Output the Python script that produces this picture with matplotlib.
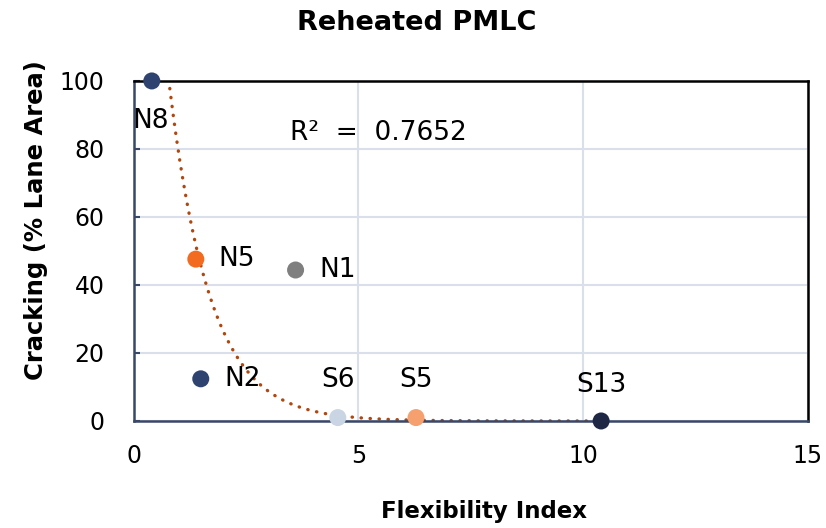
import numpy as np
import matplotlib
matplotlib.use("Agg")
import matplotlib.pyplot as plt

# sample ids, flexibility index and cracking (% lane area)
labels = ["N8", "N5", "N1", "N2", "S6", "S5", "S13"]
flex_index = [0.4, 1.38, 3.6, 1.49, 4.54, 6.28, 10.4]
cracking = [100, 47.6, 44.4, 12.4, 1.0, 1.0, 0.0]
colors = ["#2f4371", "#f26b21", "#7f7f7f", "#2f4371", "#c9d5e2", "#f5a06e", "#1e2744"]

# exponential trendline y = a * exp(b * x)
trend_a = 236.0
trend_b = -1.1
r_squared = 0.7652

plt.rcParams["font.family"] = ["DejaVu Sans"]

fig = plt.figure(figsize=(8.26, 5.28), dpi=100)
ax = fig.add_axes([0.162, 0.2027, 0.816, 0.644])

xt = np.linspace(min(flex_index), max(flex_index), 400)
ax.plot(xt, trend_a * np.exp(trend_b * xt), linestyle=(0, (0.1, 2.6)),
        color="#b0470f", linewidth=2.4, dash_capstyle="round", zorder=2)

ax.scatter(flex_index, cracking, s=150, c=colors, zorder=3, clip_on=False,
           linewidths=0)

offsets = {
    "N8": ((-1, -29), "center", "center"),
    "N5": ((16, 0), "left", "center"),
    "N1": ((17, 0), "left", "center"),
    "N2": ((17, 0), "left", "center"),
    "S6": ((0, 27), "center", "center"),
    "S5": ((0, 27), "center", "center"),
    "S13": ((0, 26), "center", "center"),
}
for lab, x, y in zip(labels, flex_index, cracking):
    off, ha, va = offsets[lab]
    ax.annotate(lab, (x, y), xytext=off, textcoords="offset points",
                ha=ha, va=va, fontsize=19, color="black")

ax.text(3.47, 84.7, f"R²  =  {r_squared}", fontsize=19, ha="left", va="center")

ax.set_xlim(0, 15)
ax.set_ylim(0, 100)
ax.set_xticks([0, 5, 10, 15])
ax.set_yticks([0, 20, 40, 60, 80, 100])
ax.grid(True, color="#d9e0ec", linewidth=1.5)
ax.set_axisbelow(True)

for s in ["left", "bottom"]:
    ax.spines[s].set_color("#3a4868")
    ax.spines[s].set_linewidth(1.8)
for s in ["top", "right"]:
    ax.spines[s].set_color("black")
    ax.spines[s].set_linewidth(1.8)

ax.tick_params(axis="x", length=0, pad=16.5, labelsize=17)
ax.tick_params(axis="y", direction="in", length=4, width=1.5, color="#3a4868",
               pad=21, labelsize=17)

fig.text(0.504, 1 - 23 / 528, "Reheated PMLC", fontsize=19.5, fontweight="bold",
         ha="center", va="center")
ax.set_xlabel("Flexibility Index", fontsize=16.5, fontweight="bold", va="baseline")
ax.xaxis.set_label_coords(0.519, -0.285)
ax.set_ylabel("Cracking (% Lane Area)", fontsize=17.5, fontweight="bold", va="baseline")
ax.yaxis.set_label_coords(-0.135, 0.591)

plt.savefig("out.png", dpi=100)
plt.close()
